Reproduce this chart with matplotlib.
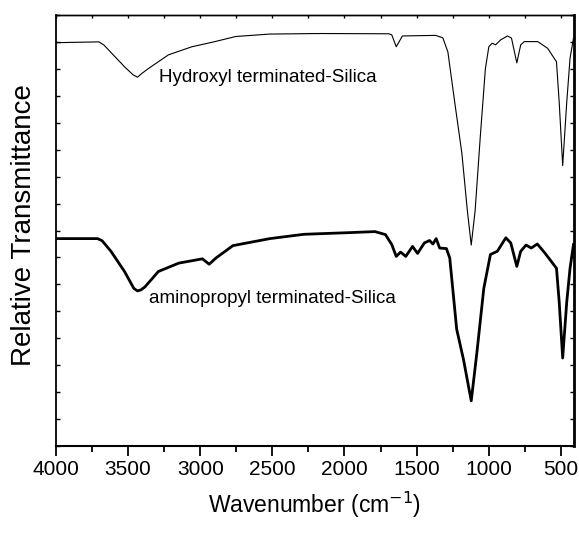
import matplotlib
matplotlib.use("Agg")
import matplotlib.pyplot as plt
from matplotlib.ticker import MultipleLocator, NullFormatter

plt.rcParams['font.family'] = ['Liberation Sans', 'DejaVu Sans']

# hydroxyl terminated silica (upper, thin trace)
wn_oh = [4000, 3702, 3667, 3600, 3520, 3466, 3435, 3407, 3362, 3220, 3057, 2914, 2753, 2517, 2164, 1692, 1672,
         1641, 1598, 1367, 1318, 1283, 1235, 1186, 1148, 1121, 1094, 1058, 1023,
         999, 976, 952, 918, 870, 842, 805, 778, 753, 660, 591, 530, 511, 487,
         459, 436, 412]
t_oh = [14.97, 15.0, 14.88, 14.5, 14.05, 13.78, 13.69, 13.82, 14.0, 14.52, 14.82, 14.99, 15.2, 15.29, 15.31, 15.3, 15.26,
        14.82, 15.22, 15.24, 15.15, 14.63, 12.74, 10.87, 8.74, 7.46, 8.74, 11.5, 14.0,
        14.82, 14.95, 14.89, 15.07, 15.22, 15.14, 14.22, 14.89, 15.01, 15.01, 14.76, 14.26, 12.75, 10.41,
        12.75, 14.39, 15.14]

# aminopropyl terminated silica (lower, thick trace)
wn_nh2 = [4000, 3712, 3680, 3619, 3525, 3460, 3435, 3410, 3383, 3290, 3149, 2985, 2938, 2891, 2773,
          2517, 2281, 1976, 1789, 1716, 1672, 1641, 1611, 1575, 1528, 1493, 1446,
          1410, 1387, 1364, 1340, 1293, 1270, 1222, 1175, 1121, 1082, 1034, 988,
          940, 881, 847, 805, 778, 741, 705, 663, 611, 530, 511, 487, 459, 436, 412]
t_nh2 = [7.70, 7.70, 7.62, 7.23, 6.48, 5.85, 5.76, 5.80, 5.91, 6.48, 6.79, 6.95, 6.75, 6.98, 7.44,
         7.70, 7.86, 7.92, 7.96, 7.85, 7.48, 7.04, 7.20, 7.04, 7.41, 7.15, 7.54,
         7.63, 7.50, 7.70, 7.35, 7.33, 6.98, 4.34, 3.22, 1.68, 3.46, 5.85, 7.11,
         7.23, 7.73, 7.54, 6.67, 7.23, 7.46, 7.35, 7.50, 7.17, 6.60, 5.34, 3.27, 5.34, 6.60, 7.48]

fig = plt.figure(figsize=(5.79, 5.33), dpi=100)
ax = fig.add_axes([0.0967, 0.163, 0.8943, 0.809])

ax.plot(wn_oh, t_oh, color='black', lw=0.8)
ax.plot(wn_nh2, t_nh2, color='black', lw=2.0)

ax.text(3286, 13.67, "Hydroxyl terminated-Silica", fontsize=13.5, va='center', ha='left')
ax.text(3356, 5.48, "aminopropyl terminated-Silica", fontsize=13.5, va='center', ha='left')

ax.set_xlim(4000, 410)
ax.set_ylim(0, 16)
ax.xaxis.set_major_locator(MultipleLocator(500))
ax.xaxis.set_minor_locator(MultipleLocator(250))
ax.yaxis.set_major_locator(MultipleLocator(1))
ax.yaxis.set_major_formatter(NullFormatter())

ax.tick_params(axis='x', which='major', direction='out', length=7, width=1.3, labelsize=15, pad=3)
ax.tick_params(axis='x', which='minor', direction='out', length=4, width=1.3)
ax.tick_params(axis='y', which='major', direction='in', length=3, width=1.0, left=True, right=True)
ax.spines['top'].set_linewidth(1.0)
ax.spines['left'].set_linewidth(1.3)
ax.spines['bottom'].set_linewidth(1.5)
ax.spines['right'].set_linewidth(2.0)

# small inward ticks along the top edge
top = ax.secondary_xaxis('top')
top.xaxis.set_major_locator(MultipleLocator(250))
top.tick_params(direction='in', length=2.5, width=1.0, labeltop=False)
top.spines['top'].set_linewidth(1.0)

ax.set_xlabel("Wavenumber (cm$^{-1}$)", fontsize=16.5, labelpad=8)
ax.set_ylabel("Relative Transmittance", fontsize=20)
ax.yaxis.set_label_coords(-0.036, 0.513)

fig.savefig("out.png", dpi=100)
